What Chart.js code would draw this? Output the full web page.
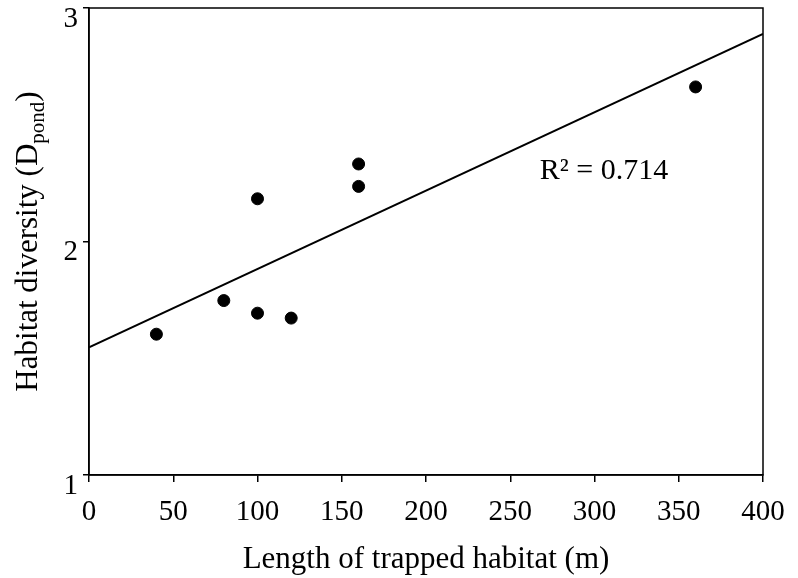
<!DOCTYPE html>
<html>
<head>
<meta charset="utf-8">
<script src="https://cdn.jsdelivr.net/npm/chart.js@4.4.1/dist/chart.umd.min.js"></script>
<style>
  html, body { margin: 0; padding: 0; background: #fff; }
  #wrap { width: 798px; height: 578px; }
</style>
</head>
<body>
<div id="wrap"><canvas id="grafico"></canvas></div>
<script>
// datos
const largo = [40, 80, 100, 100, 120, 160, 160, 360];
const diversidad = [1.603, 1.747, 1.693, 2.183, 1.672, 2.332, 2.236, 2.662];
const tendenciaX = [0, 400];
const tendenciaY = [1.547, 2.889];
const xTicks = [0, 50, 100, 150, 200, 250, 300, 350, 400];
const yTicks = [1, 2, 3];
const r2Texto = "R\u00B2 = 0.714";
const r2Pos = { x: 267.5, y: 2.269 };

const fuente = "'Liberation Serif', 'Times New Roman', serif";

const puntos = largo.map((x, i) => ({ x, y: diversidad[i] }));
const linea = tendenciaX.map((x, i) => ({ x, y: tendenciaY[i] }));

// marco y textos extra (titulo Y con subindice, R2)
const extras = {
  id: "extras",
  afterDraw(chart) {
    const { ctx, chartArea: a, scales } = chart;
    ctx.save();
    ctx.strokeStyle = "#000";
    ctx.lineWidth = 1.5;
    ctx.strokeRect(a.left, a.top, a.right - a.left, a.bottom - a.top);

    ctx.fillStyle = "#000";
    ctx.font = "30px " + fuente;
    ctx.textBaseline = "alphabetic";
    ctx.textAlign = "left";
    ctx.fillText(r2Texto, scales.x.getPixelForValue(r2Pos.x), scales.y.getPixelForValue(r2Pos.y));

    // titulo eje Y
    const parte1 = "Habitat diversity (D";
    const sub = "pond";
    const parte3 = ")";
    ctx.font = "31px " + fuente;
    const w1 = ctx.measureText(parte1).width;
    const w3 = ctx.measureText(parte3).width;
    ctx.font = "21px " + fuente;
    const w2 = ctx.measureText(sub).width;
    const total = w1 + w2 + w3;
    ctx.translate(37, (a.top + a.bottom) / 2);
    ctx.rotate(-Math.PI / 2);
    let x0 = -total / 2;
    ctx.font = "31px " + fuente;
    ctx.fillText(parte1, x0, 0);
    ctx.font = "21px " + fuente;
    ctx.fillText(sub, x0 + w1, 7);
    ctx.font = "31px " + fuente;
    ctx.fillText(parte3, x0 + w1 + w2, 0);
    ctx.restore();
  }
};

new Chart(document.getElementById("grafico"), {
  type: "scatter",
  data: {
    datasets: [
      {
        label: "datos",
        data: puntos,
        backgroundColor: "#000",
        borderColor: "#000",
        pointRadius: 6,
        pointHoverRadius: 6
      },
      {
        type: "line",
        label: "tendencia",
        data: linea,
        borderColor: "#000",
        borderWidth: 2,
        pointRadius: 0,
        fill: false
      }
    ]
  },
  options: {
    responsive: true,
    maintainAspectRatio: false,
    animation: false,
    layout: { padding: { top: 8, right: 35, left: 0, bottom: 0 } },
    plugins: { legend: { display: false }, tooltip: { enabled: false } },
    scales: {
      x: {
        type: "linear",
        min: 0,
        max: 400,
        afterBuildTicks: s => { s.ticks = xTicks.map(v => ({ value: v })); },
        afterFit: s => { s.height = 103; s.paddingLeft = 0; s.paddingRight = 0; },
        border: { color: "#000", width: 1.5 },
        grid: { drawOnChartArea: false, drawTicks: true, tickLength: 7, color: "#000", lineWidth: 1.5 },
        ticks: { color: "#000", font: { family: fuente, size: 29 }, padding: 13, maxRotation: 0 },
        title: {
          display: true,
          text: "Length of trapped habitat (m)",
          color: "#000",
          font: { family: fuente, size: 31 },
          padding: { top: 0, bottom: 0 }
        }
      },
      y: {
        min: 1,
        max: 3,
        afterBuildTicks: s => { s.ticks = yTicks.map(v => ({ value: v })); },
        afterFit: s => { s.width = 89; s.paddingTop = 0; s.paddingBottom = 0; },
        border: { color: "#000", width: 1.5 },
        grid: { drawOnChartArea: false, drawTicks: true, tickLength: 6, color: "#000", lineWidth: 1.5 },
        ticks: { color: "#000", font: { family: fuente, size: 29 }, padding: 5, labelOffset: 11 }
      }
    }
  },
  plugins: [extras]
});
</script>
</body>
</html>
